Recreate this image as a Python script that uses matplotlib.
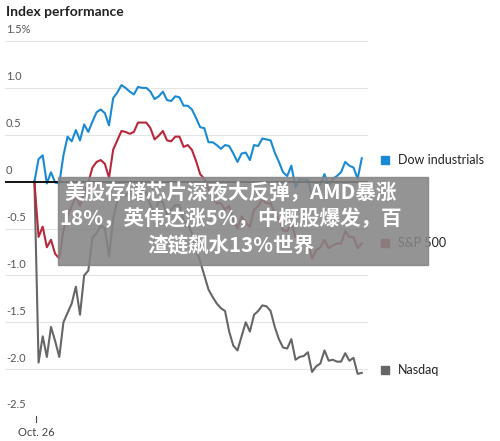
import matplotlib
matplotlib.use("Agg")
import matplotlib.pyplot as plt
from matplotlib.patches import Rectangle

dow = [0,0.24,0.28,-0.02,0.10,-0.01,-0.02,0.28,0.48,0.43,0.55,0.44,0.61,0.53,0.64,0.74,0.77,0.73,0.60,0.89,0.95,1.03,1.00,0.96,0.93,1.01,1.00,1.00,0.96,0.88,0.91,0.96,0.87,0.86,0.91,0.90,0.81,0.81,0.77,0.68,0.58,0.57,0.42,0.42,0.39,0.35,0.39,0.38,0.30,0.21,0.30,0.31,0.23,0.39,0.38,0.46,0.45,0.44,0.31,0.21,0.10,0.06,0.17,-0.06,0.03,0.02,0.02,-0.16,-0.05,-0.03,0.08,-0.05,0.03,0.06,0.10,0.21,0.17,0.15,0.03,0.25]
sp500 = [0,-0.59,-0.48,-0.70,-0.62,-0.77,-0.82,-0.52,-0.37,-0.26,-0.16,-0.26,-0.12,-0.01,0.15,0.21,0.23,0.19,0.04,0.34,0.44,0.54,0.53,0.51,0.53,0.63,0.63,0.63,0.57,0.45,0.49,0.54,0.44,0.43,0.48,0.48,0.37,0.39,0.34,0.22,0.08,0.03,-0.08,-0.16,-0.23,-0.23,-0.30,-0.26,-0.41,-0.50,-0.37,-0.44,-0.48,-0.30,-0.26,-0.19,-0.23,-0.23,-0.34,-0.41,-0.52,-0.53,-0.44,-0.59,-0.62,-0.62,-0.64,-0.82,-0.73,-0.70,-0.62,-0.71,-0.68,-0.66,-0.66,-0.53,-0.59,-0.59,-0.71,-0.66]
nasdaq = [0,-1.93,-1.65,-1.87,-1.55,-1.70,-1.87,-1.50,-1.40,-1.30,-1.12,-1.42,-1.00,-0.95,-0.60,-0.55,-0.47,-0.50,-0.80,-0.40,-0.20,-0.12,-0.15,-0.10,-0.08,-0.05,-0.10,-0.12,-0.25,-0.35,-0.20,-0.22,-0.35,-0.30,-0.25,-0.25,-0.42,-0.45,-0.55,-0.72,-0.85,-1.00,-1.15,-1.23,-1.30,-1.35,-1.38,-1.60,-1.75,-1.80,-1.65,-1.50,-1.60,-1.42,-1.38,-1.32,-1.33,-1.38,-1.55,-1.68,-1.77,-1.78,-1.68,-1.90,-1.87,-1.86,-1.82,-2.03,-1.97,-1.94,-1.80,-1.91,-1.90,-1.92,-1.92,-1.83,-1.91,-1.88,-2.05,-2.04]
series_names = ["Dow industrials", "S&P 500", "Nasdaq"]
colors = ["#1a8ad4", "#b8283a", "#666666"]
yticks = [1.5, 1.0, 0.5, 0, -0.5, -1.0, -1.5, -2.0, -2.5]
ytick_labels = ["1.5%", "1.0", "0.5", "0", "-0.5", "-1.0", "-1.5", "-2.0", "-2.5"]
xtick_label = "Oct. 26"

plt.rcParams['font.family'] = ['Lato', 'DejaVu Sans']
fig = plt.figure(figsize=(5, 4.41), dpi=100)
ax = fig.add_axes([5/500, 1-416/441, 363/500, 375/441])
ax.set_xlim(-7.1, 80.5)
ax.set_ylim(-2.5, 1.5)
for s in ax.spines.values():
    s.set_visible(False)
ax.set_xticks([]); ax.set_yticks([])
for v, lab in zip(yticks, ytick_labels):
    ax.axhline(v, color='black' if v == 0 else '#e4e4e4', lw=1.3 if v == 0 else 0.8, zorder=1 if v else 4)
    ax.text(-6.9, v + 0.06, lab, fontsize=8, color='#555', va='bottom', ha='left')
xs = list(range(len(dow)))
for data, c in zip([nasdaq, sp500, dow], colors[::-1]):
    ax.plot(xs, data, color=c, lw=1.5, zorder=3)
ax.plot([0.5, 0.5], [-2.5, -2.56], color='#444', lw=0.8, clip_on=False)
ax.text(0.5, -2.62, xtick_label, fontsize=8, color='#444', ha='center', va='top')

fig.text(6/500, 1-12/441, "Index performance", fontsize=10, fontweight='bold', va='center', color='#222')

leg_y = [160, 243, 370]
for name, c, py in zip(series_names, colors, leg_y):
    fig.patches.append(Rectangle((381/500, 1-(py+4)/441), 8/500, 8/441, color=c, transform=fig.transFigure))
    fig.text(398/500, 1-py/441, name, fontsize=9, va='center', color='#222')

fig.patches.append(Rectangle((58/500, 1-265/441), 370/500, 88/441, color='#858585', alpha=0.88,
                             transform=fig.transFigure, zorder=10))
lines = ["美股存储芯片深夜大反弹，AMD暴涨", "18%，英伟达涨5%，中概股爆发，百", "渣链飙水13%世界"]
for i, t in enumerate(lines):
    fig.text(231/500, 1-(193+i*26)/441, t, fontsize=14.8, fontweight='bold', color='white',
             ha='center', va='center', family=['Noto Sans CJK SC', 'DejaVu Sans'], zorder=11)
fig.savefig("out.png", dpi=100)
